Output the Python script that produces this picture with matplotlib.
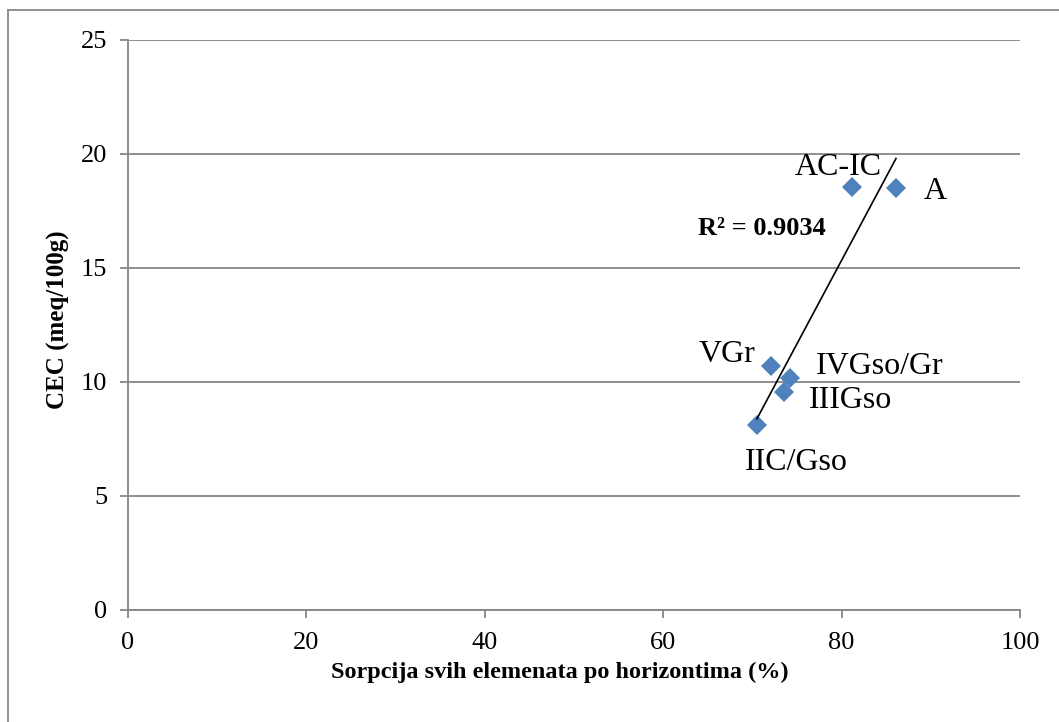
import matplotlib.pyplot as plt
import numpy as np
from matplotlib.lines import Line2D

# data
labels = ['AC-IC', 'A', 'VGr', 'IVGso/Gr', 'IIIGso', 'IIC/Gso']
sorpcija = [81.2, 86.1, 72.1, 74.2, 73.5, 70.5]
cec = [18.54, 18.5, 10.68, 10.19, 9.58, 8.13]
r2_text = 'R² = 0.9034'

x_ticks = [0, 20, 40, 60, 80, 100]
y_ticks = [0, 5, 10, 15, 20, 25]

plt.rcParams['font.family'] = ['Liberation Serif', 'DejaVu Serif']

fig = plt.figure(figsize=(10.59, 7.22), dpi=100)
ax = fig.add_axes([128 / 1059, 1 - 610 / 722, 892 / 1059, 570 / 722])

grid_col = '#868686'

# points
ax.plot(sorpcija, cec, linestyle='none', marker='D', markersize=10.5,
        color='#4F81BD', markeredgewidth=0, zorder=3)

# linear trendline over the data range
k, n = np.polyfit(sorpcija, cec, 1)
xs = np.array([min(sorpcija), max(sorpcija)])
ax.plot(xs, k * xs + n, color='black', linewidth=1.2, zorder=4)

# point labels (offsets in pixels)
offsets = [(-14, 20), (39, -3), (-44, 12), (90, 11), (67, -9), (39, -38)]
for lab, x, y, off in zip(labels, sorpcija, cec, offsets):
    ax.annotate(lab, (x, y), xytext=off, textcoords='offset pixels',
                ha='center', va='center', fontsize=23)

ax.text(71.1, 16.75, r2_text, ha='center', va='center', fontsize=19,
        fontweight='bold')

ax.set_xlim(0, 100)
ax.set_ylim(0, 25)
ax.set_xticks(x_ticks)
ax.set_yticks(y_ticks)
ax.tick_params(labelsize=19, color=grid_col, width=1.3, length=6,
               direction='out')
ax.tick_params(axis='x', pad=10)
ax.tick_params(axis='y', pad=9)
ax.yaxis.grid(True, color=grid_col, linewidth=1.3)
ax.set_axisbelow(True)
for side in ['top', 'right']:
    ax.spines[side].set_visible(False)
for side in ['left', 'bottom']:
    ax.spines[side].set_color(grid_col)
    ax.spines[side].set_linewidth(1.3)

ax.set_xlabel('Sorpcija svih elemenata po horizontima (%)', fontsize=17.5,
              fontweight='bold', va='center')
ax.set_ylabel('CEC (meq/100g)', fontsize=18, fontweight='bold', va='center')
ax.xaxis.set_label_coords(0.484, -0.11)
ax.yaxis.set_label_coords(-0.0785, 0.51)

# outer chart border (top and left visible)
fig.add_artist(Line2D([8 / 1059, 8 / 1059], [0, 1 - 10 / 722],
                      transform=fig.transFigure, color='#898989', linewidth=1.3))
fig.add_artist(Line2D([8 / 1059, 1], [1 - 10 / 722, 1 - 10 / 722],
                      transform=fig.transFigure, color='#898989', linewidth=1.3))

fig.savefig('out.png', dpi=100)
